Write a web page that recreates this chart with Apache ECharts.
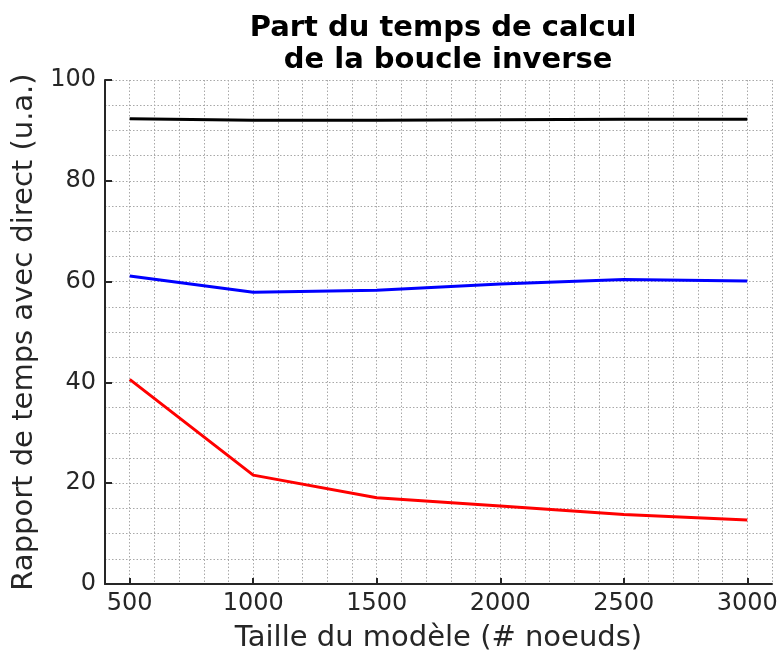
<!DOCTYPE html>
<html>
<head>
<meta charset="utf-8">
<script src="https://cdn.jsdelivr.net/npm/echarts@6/dist/echarts.min.js"></script>
<style>
html,body{margin:0;padding:0;background:#fff;}
#chart{width:783px;height:657px;}
</style>
</head>
<body>
<div id="chart"></div>
<script>
const xValues = [500, 1000, 1500, 2000, 2500, 3000];
const blackValues = [92.3, 92.0, 92.0, 92.1, 92.2, 92.2];
const blueValues = [61.1, 57.9, 58.3, 59.5, 60.4, 60.1];
const redValues = [40.6, 21.6, 17.1, 15.5, 13.8, 12.7];
const xTickLabels = [500, 1000, 1500, 2000, 2500, 3000];
const yTickLabels = [0, 20, 40, 60, 80, 100];

const titleText = 'Part du temps de calcul\n de la boucle inverse';
const xName = 'Taille du modèle (# noeuds)';
const yName = 'Rapport de temps avec direct (u.a.)';

const FONT = 'DejaVu Sans';
const TXT = '#262626';
const GRID = {show: true, lineStyle: {color: '#a8a8a8', width: 1, type: [1.5, 2]}};

function pairs(ys) { return xValues.map((x, i) => [x, ys[i]]); }

const chart = echarts.init(document.getElementById('chart'), null, {renderer: 'canvas'});
chart.setOption({
  animation: false,
  backgroundColor: '#ffffff',
  title: {
    text: titleText,
    left: 438,
    top: 7,
    textAlign: 'center',
    textStyle: {fontFamily: FONT, fontSize: 29, fontWeight: 'bold', color: '#000', lineHeight: 32}
  },
  grid: {left: 105, right: 11, top: 80, bottom: 73, containLabel: false, outerBoundsMode: 'none'},
  xAxis: [{
    type: 'value', min: 400, max: 3100, interval: 100,
    name: xName, nameLocation: 'middle', nameGap: 40,
    nameTextStyle: {fontFamily: FONT, fontSize: 29, color: TXT},
    axisLine: {show: true, onZero: false, lineStyle: {color: TXT, width: 2}},
    axisTick: {show: true, inside: true, length: 6, customValues: xTickLabels, lineStyle: {color: TXT, width: 2}},
    axisLabel: {show: true, customValues: xTickLabels, margin: 8, fontFamily: FONT, fontSize: 24, color: TXT,
      formatter: v => String(v)},
    splitLine: {show: false},
    z: 5
  }, {
    type: 'value', min: 400, max: 3100, interval: 100, position: 'bottom',
    axisLine: {show: false}, axisTick: {show: false}, axisLabel: {show: false},
    splitLine: GRID, z: 0
  }],
  yAxis: [{
    type: 'value', min: 0, max: 100, interval: 5,
    name: yName, nameLocation: 'middle', nameGap: 56,
    nameTextStyle: {fontFamily: FONT, fontSize: 29, color: TXT},
    axisLine: {show: true, lineStyle: {color: TXT, width: 2}},
    axisTick: {show: true, inside: true, length: 7, customValues: yTickLabels, lineStyle: {color: TXT, width: 2}},
    axisLabel: {show: true, customValues: yTickLabels, margin: 9, fontFamily: FONT, fontSize: 24, color: TXT,
      formatter: v => String(v)},
    splitLine: {show: false},
    z: 5
  }, {
    type: 'value', min: 0, max: 100, interval: 5, position: 'left',
    axisLine: {show: false}, axisTick: {show: false}, axisLabel: {show: false},
    splitLine: GRID, z: 0
  }],
  series: [
    {type: 'line', data: pairs(blackValues), showSymbol: false, symbol: 'none', lineStyle: {color: '#000000', width: 3}, z: 3},
    {type: 'line', data: pairs(blueValues), showSymbol: false, symbol: 'none', lineStyle: {color: '#0000ff', width: 3}, z: 3},
    {type: 'line', data: pairs(redValues), showSymbol: false, symbol: 'none', lineStyle: {color: '#ff0000', width: 3}, z: 3}
  ]
});
</script>
</body>
</html>
